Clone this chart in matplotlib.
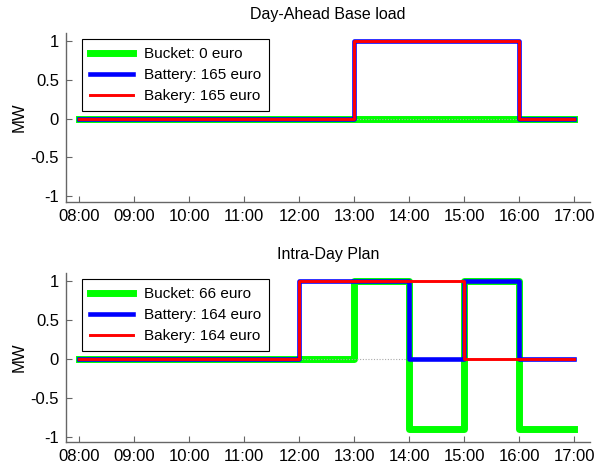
import matplotlib
matplotlib.use("Agg")
import matplotlib.pyplot as plt
from matplotlib.ticker import FuncFormatter

plt.rcParams["font.family"] = ["Liberation Sans", "DejaVu Sans"]
plt.rcParams["font.size"] = 11.5

# breakpoints in hours (step 'post')
hours = [8, 12, 13, 14, 15, 16, 17]

# Day-Ahead base load
bucket_da = [0, 0, 0, 0, 0, 0, 0]
battery_da = [0, 0, 1, 1, 1, 0, 0]
bakery_da = [0, 0, 1, 1, 1, 0, 0]
labels_da = ["Bucket: 0 euro", "Battery: 165 euro", "Bakery: 165 euro"]

# Intra-Day plan
bucket_id = [0, 0, 1, -0.9, 1, -0.9, -0.9]
battery_id = [0, 1, 1, 0, 1, 0, 0]
bakery_id = [0, 1, 1, 1, 0, 0, 0]
labels_id = ["Bucket: 66 euro", "Battery: 164 euro", "Bakery: 164 euro"]

yticks = [-1, -0.5, 0, 0.5, 1]
ytick_labels = ["-1", "-0.5", "0", "0.5", "1"]
xticks = list(range(8, 18))

fig = plt.figure(figsize=(5.95, 4.65), dpi=100)
ax1 = fig.add_axes([0.111, 0.566, 0.881, 0.363])
ax2 = fig.add_axes([0.111, 0.0495, 0.881, 0.3635])

spine_col = "#666666"


def draw(ax, title, bucket, battery, bakery, labels):
    ax.step(hours, bucket, where="post", color="#00ff00", lw=5.0, label=labels[0], zorder=2)
    ax.hlines(0, hours[0], hours[-1], color="#aaaaaa", lw=0.8, ls=(0, (1, 1.5)), zorder=2.5)
    ax.step(hours, battery, where="post", color="#0000ff", lw=3.3, label=labels[1], zorder=3)
    ax.step(hours, bakery, where="post", color="#ff0000", lw=2.1, label=labels[2], zorder=4)
    ax.set_xlim(7.76, 17.29)
    ax.set_ylim(-1.07, 1.1)
    ax.set_xticks(xticks)
    ax.xaxis.set_major_formatter(FuncFormatter(lambda v, p: "%02d:00" % int(round(v))))
    ax.set_yticks(yticks)
    ax.set_yticklabels(ytick_labels)
    ax.set_ylabel("MW", labelpad=3, fontsize=12)
    ax.set_title(title, fontsize=11.5, pad=10)
    for s in ["top", "right"]:
        ax.spines[s].set_visible(False)
    for s in ["left", "bottom"]:
        ax.spines[s].set_color(spine_col)
        ax.spines[s].set_linewidth(1.0)
    ax.tick_params(direction="in", length=4, color=spine_col, width=0.8, pad=5, labelsize=12)
    leg = ax.legend(loc="upper left", bbox_to_anchor=(0.03, 0.965), fancybox=False,
                    framealpha=1, edgecolor="black", handlelength=2.8, labelspacing=0.45,
                    borderpad=0.55, handletextpad=0.7, borderaxespad=0, fontsize=11)
    leg.get_frame().set_linewidth(0.8)


draw(ax1, "Day-Ahead Base load", bucket_da, battery_da, bakery_da, labels_da)
draw(ax2, "Intra-Day Plan", bucket_id, battery_id, bakery_id, labels_id)

fig.savefig("out.png", dpi=100)
